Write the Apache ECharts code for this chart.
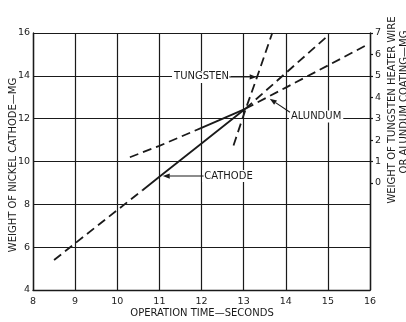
<!DOCTYPE html>
<html>
<head>
<meta charset="utf-8">
<script src="https://cdn.jsdelivr.net/npm/echarts@6/dist/echarts.min.js"></script>
<style>
  html, body { margin: 0; padding: 0; background: #fff; }
  #chart { width: 406px; height: 322px; }
</style>
</head>
<body>
<div id="chart"></div>
<script>
// Operation time (seconds) and weights (mg)
const cathodeTime  = [8.5, 9, 10, 10.6, 11, 12, 13.04, 14, 15];
const cathodeMg    = [5.4, 6.18, 7.73, 8.66, 9.29, 10.84, 12.46, 14.13, 15.87];
const alundumTime  = [10.3, 11, 12, 13.04, 14, 15, 15.93];
const alundumMg    = [1.2, 1.73, 2.57, 3.46, 4.45, 5.48, 6.45];
const tungstenTime = [12.76, 13.04, 13.32, 13.68];
const tungstenMg   = [1.75, 3.4, 4.95, 7.0];

// Axis ticks
const timeTicks    = [8, 9, 10, 11, 12, 13, 14, 15, 16];
const cathodeTicks = [4, 6, 8, 10, 12, 14, 16];
const wireTicks    = [0, 1, 2, 3, 4, 5, 6, 7];

// Index range of each curve drawn solid (rest is dashed)
const cathodeSolid  = [3, 6];
const alundumSolid  = [2, 3];
const tungstenSolid = null;

const INK = '#1a1a1a';
const FONT = 'DejaVu Sans';

function pairs(t, v, a, b) {
  const out = [];
  for (let i = a; i <= b; i++) out.push([t[i], v[i]]);
  return out;
}

function curveSeries(name, t, v, solid, yAxisIndex) {
  const base = {
    type: 'line', name, yAxisIndex, showSymbol: false, symbol: 'none',
    silent: true, animation: false,
    lineStyle: { color: INK, width: 1.8 }
  };
  const dashed = { color: INK, width: 1.8, type: [9, 5] };
  const n = t.length - 1;
  if (!solid) {
    return [Object.assign({}, base, { data: pairs(t, v, 0, n), lineStyle: dashed })];
  }
  const s = [];
  if (solid[0] > 0) s.push(Object.assign({}, base, { data: pairs(t, v, 0, solid[0]), lineStyle: dashed }));
  s.push(Object.assign({}, base, { data: pairs(t, v, solid[0], solid[1]) }));
  if (solid[1] < n) s.push(Object.assign({}, base, { data: pairs(t, v, solid[1], n), lineStyle: dashed }));
  return s;
}

const chart = echarts.init(document.getElementById('chart'), null, { renderer: 'canvas' });

const labelStyle = { color: INK, fontFamily: FONT, fontSize: 9.5 };

chart.setOption({
  backgroundColor: '#fff',
  animation: false,
  grid: { left: 33, right: 36, top: 33, bottom: 32, containLabel: false },
  xAxis: {
    type: 'value', min: timeTicks[0], max: timeTicks[timeTicks.length - 1], interval: 1,
    axisLine: { show: true, onZero: false, lineStyle: { color: INK, width: 1.4 } },
    axisTick: { show: false },
    axisLabel: Object.assign({ margin: 7 }, labelStyle),
    splitLine: { show: true, lineStyle: { color: INK, width: 1.2 } }
  },
  yAxis: [
    {
      type: 'value', min: cathodeTicks[0], max: cathodeTicks[cathodeTicks.length - 1], interval: 2,
      position: 'left',
      axisLine: { show: true, onZero: false, lineStyle: { color: INK, width: 1.4 } },
      axisTick: { show: false },
      axisLabel: Object.assign({ margin: 3 }, labelStyle),
      splitLine: { show: true, lineStyle: { color: INK, width: 1.2 } }
    },
    {
      type: 'value', min: -5, max: 7, interval: 1,
      position: 'right',
      axisLine: { show: true, onZero: false, lineStyle: { color: INK, width: 1.4 } },
      axisTick: { show: true, length: 3, customValues: wireTicks, lineStyle: { color: INK, width: 1.2 } },
      axisLabel: Object.assign({ margin: 5, customValues: wireTicks }, labelStyle),
      splitLine: { show: false }
    }
  ],
  series: [].concat(
    curveSeries('Cathode', cathodeTime, cathodeMg, cathodeSolid, 0),
    curveSeries('Alundum', alundumTime, alundumMg, alundumSolid, 1),
    curveSeries('Tungsten', tungstenTime, tungstenMg, tungstenSolid, 1)
  )
});

// Callout labels: text placed in data space (time, cathode-axis mg), with arrows
const callouts = [
  { text: 'TUNGSTEN', at: [12.0, 13.95], from: [12.66, 13.95], to: [13.31, 13.95] },
  { text: 'CATHODE',  at: [12.64, 9.32], from: [12.05, 9.32],  to: [11.08, 9.32] },
  { text: 'ALUNDUM',  at: [14.72, 12.1], from: [14.1, 12.3],   to: [13.62, 12.93] }
];

function px(p) {
  return chart.convertToPixel({ xAxisIndex: 0, yAxisIndex: 0 }, p);
}

const graphics = [];
callouts.forEach(c => {
  const a = px(c.at), f = px(c.from), t = px(c.to);
  graphics.push({
    type: 'text', x: a[0], y: a[1], z: 10,
    style: { text: c.text, fill: INK, font: '10px "' + FONT + '"',
      align: 'center', verticalAlign: 'middle', backgroundColor: '#fff', padding: [1, 2] }
  });
  const dx = t[0] - f[0], dy = t[1] - f[1];
  const len = Math.hypot(dx, dy), ux = dx / len, uy = dy / len;
  const hl = 7, hw = 2.6;
  const bx = t[0] - ux * hl, by = t[1] - uy * hl;
  graphics.push({
    type: 'line', z: 10,
    shape: { x1: f[0], y1: f[1], x2: bx, y2: by },
    style: { stroke: INK, lineWidth: 1.1 }
  });
  graphics.push({
    type: 'polygon', z: 10,
    shape: { points: [[t[0], t[1]], [bx - uy * hw, by + ux * hw], [bx + uy * hw, by - ux * hw]] },
    style: { fill: INK }
  });
});

// Axis titles
const titleFont = '10px "' + FONT + '"';
graphics.push(
  { type: 'text', x: 202, y: 313, style: { text: 'OPERATION TIME—SECONDS', fill: INK, font: titleFont, align: 'center', verticalAlign: 'middle' } },
  { type: 'text', x: 13, y: 165, rotation: Math.PI / 2, style: { text: 'WEIGHT OF NICKEL CATHODE—MG', fill: INK, font: titleFont, align: 'center', verticalAlign: 'middle' } },
  { type: 'text', x: 392, y: 110, rotation: Math.PI / 2, style: { text: 'WEIGHT OF TUNGSTEN HEATER WIRE', fill: INK, font: titleFont, align: 'center', verticalAlign: 'middle' } },
  { type: 'text', x: 404, y: 102, rotation: Math.PI / 2, style: { text: 'OR ALUNDUM COATING—MG', fill: INK, font: titleFont, align: 'center', verticalAlign: 'middle' } }
);

chart.setOption({ graphic: graphics });
</script>
</body>
</html>
